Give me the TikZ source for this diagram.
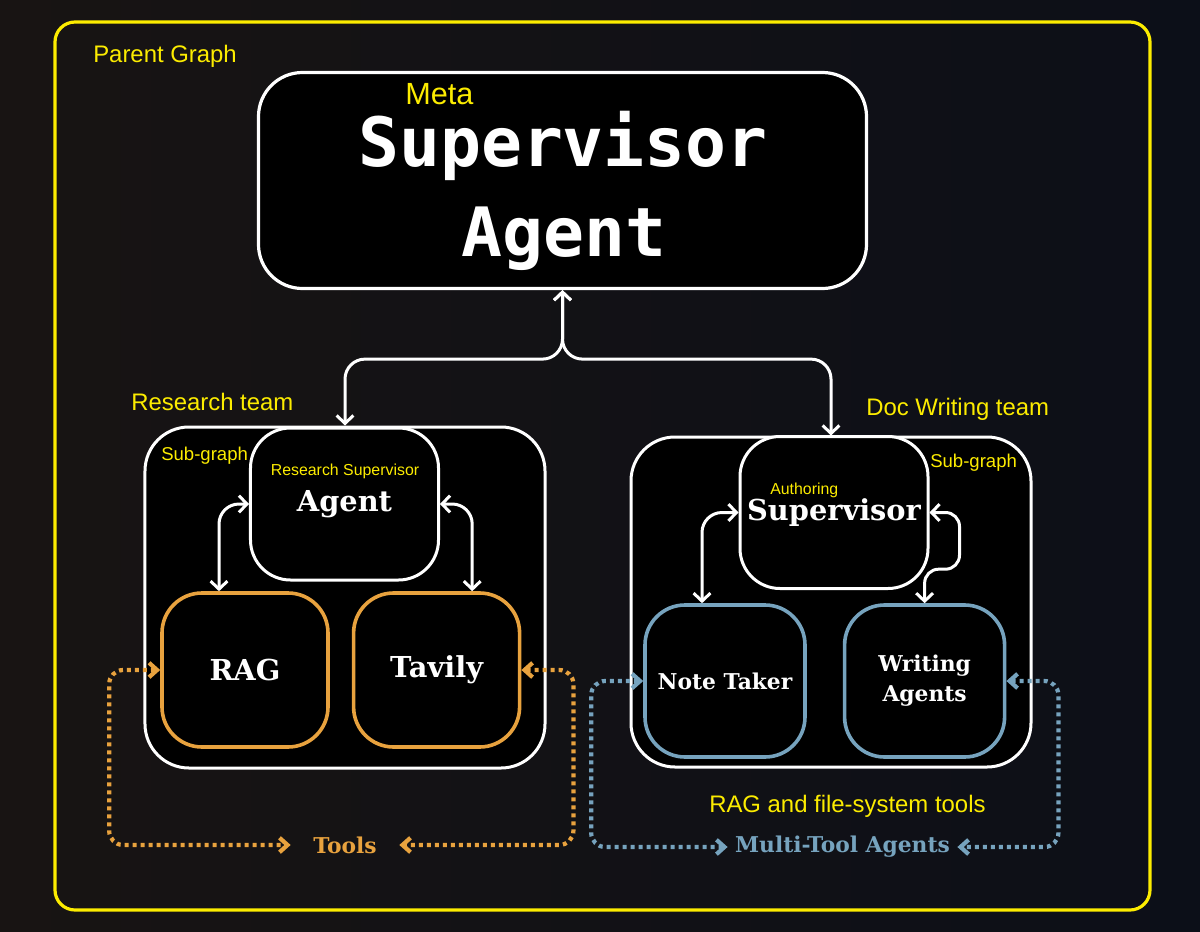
\documentclass[tikz,border=0pt]{standalone}
\usepackage{fontspec}
\setmainfont{DejaVu Serif}
\setsansfont{Liberation Sans}
\setmonofont{DejaVu Sans Mono}
\usepackage{tikz}
\usetikzlibrary{arrows.meta, positioning, calc}

\definecolor{bgleft}{RGB}{24,20,19}
\definecolor{bgright}{RGB}{12,15,24}
\definecolor{lblyellow}{RGB}{252,236,0}
\definecolor{toolorange}{RGB}{232,162,62}
\definecolor{toolblue}{RGB}{118,163,190}

\begin{document}
\begin{tikzpicture}[
  x=0.25mm, y=-0.25mm,
  every node/.style={align=center, inner sep=0pt},
  yellowlbl/.style={text=lblyellow, font=\sffamily\fontsize{17}{20}\selectfont},
  smalllbl/.style ={text=lblyellow, font=\sffamily\fontsize{13.2}{16}\selectfont},
  tinylbl/.style  ={text=lblyellow, font=\sffamily\fontsize{11.3}{14}\selectfont},
  metabox/.style  ={rectangle, draw=white, fill=black, line width=0.8mm,
                    rounded corners=11mm, minimum width=152mm, minimum height=54mm},
  metatext/.style ={text=white, font=\ttfamily\bfseries\fontsize{48.4}{58}\selectfont,
                    text height=0.72em},
  teambox/.style  ={rectangle, draw=white, fill=black, line width=0.75mm,
                    rounded corners=11mm, minimum width=100mm},
  agent/.style    ={rectangle, draw=white, fill=black, line width=0.75mm,
                    rounded corners=10mm, minimum width=47mm, minimum height=38mm,
                    text=white, font=\bfseries\fontsize{20.5}{24}\selectfont},
  tool/.style     ={agent, draw=toolorange, line width=0.9mm,
                    minimum width=41.5mm, minimum height=38.5mm},
  writer/.style   ={agent, draw=toolblue, line width=0.9mm,
                    minimum width=40mm, minimum height=38mm,
                    font=\bfseries\fontsize{15.5}{21.3}\selectfont},
  wire/.style     ={draw=white, line width=0.75mm, rounded corners=5mm,
                    >={Straight Barb[length=2mm,width=4.2mm]}, <->},
  dotline/.style  ={line width=1.05mm, dash pattern=on 1mm off 1mm,
                    rounded corners=3.5mm,
                    >={Straight Barb[length=2mm,width=3.6mm]}, <->},
]

\useasboundingbox (0,0) rectangle (1200,932);
\shade[left color=bgleft, right color=bgright] (0,0) rectangle (1200,932);

% Parent graph frame
\draw[draw=lblyellow, line width=0.8mm, rounded corners=5mm] (55,22) rectangle (1150,910);
\node[yellowlbl, anchor=base west] (parentlbl) at (93,62) {Parent Graph};

% Meta supervisor
\node[metabox] (meta) at (562.5,180.5) {};
\node[metatext, anchor=base] (metasup)   at (563,166) {Supervisor};
\node[metatext, anchor=base] (metaagent) at (564,256) {Agent};
\node[yellowlbl, font=\sffamily\fontsize{21.8}{24}\selectfont, anchor=base west]
  (metalbl) at (405,104) {Meta};

% Research team
\node[teambox, minimum height=85.25mm] (research) at (345,597.5) {};
\node[yellowlbl, anchor=base west] (researchlbl) at (131,410) {Research team};
\node[smalllbl, anchor=base west]  (researchsub) at (161,460) {Sub-graph};
\node[agent] (rsup) at (344.5,504) {Agent};
\node[tinylbl, anchor=base] (rsuplbl) at (345,475) {Research Supervisor};
\node[tool] (rag) at (245,670) {RAG};
\node[tool, right=5.5mm of rag] (tavily) {Tavily};

% Doc writing team
\node[teambox, minimum height=82.5mm] (doc) at (831,602) {};
\node[yellowlbl, anchor=base west] (doclbl) at (866,415) {Doc Writing team};
\node[smalllbl, anchor=base west]  (docsub) at (930,467) {Sub-graph};
\node[agent] (asup) at (834,512.5) {Supervisor};
\node[tinylbl, anchor=base west] (asuplbl) at (770,494) {Authoring};
\node[writer] (note) at (725,681) {Note Taker};
\node[writer, right=9mm of note] (writing) {Writing\\Agents};

% Tool labels
\node[text=toolorange, font=\bfseries\fontsize{15.5}{18}\selectfont, inner xsep=5.6mm]
  (tools) at (345,845) {Tools};
\node[text=toolblue, font=\bfseries\fontsize{15.5}{18}\selectfont, inner xsep=1.8mm]
  (multi) at (842.5,847) {Multi-Tool Agents};
\node[yellowlbl, anchor=base west] (ragfs) at (709,812) {RAG and file-system tools};

% Supervisor links
\draw[wire] (meta.south) -- ++(0,69) -| (research.north);
\draw[wire] (meta.south) -- ++(0,69) -| (doc.north);
\draw[wire] (rsup.west) -| ([xshift=-6.5mm]rag.north);
\draw[wire] (rsup.east) -| ([xshift=8.9mm]tavily.north);
\draw[wire] (asup.west) -| ([xshift=-5.75mm]note.north);
\draw[wire, rounded corners=3.5mm] (asup.east) -- ++(30,0)
  |- ([yshift=8.5mm]writing.north) -- (writing.north);

% Tool loops
\draw[dotline, toolorange] (rag.west)     -- ++(-51,0) |- (tools.west);
\draw[dotline, toolorange] (tavily.east)  -- ++(52,0)  |- (tools.east);
\draw[dotline, toolblue]   (note.west)    -- ++(-52,0) |- (multi.west);
\draw[dotline, toolblue]   (writing.east) -- ++(52,0)  |- (multi.east);

\end{tikzpicture}
\end{document}
